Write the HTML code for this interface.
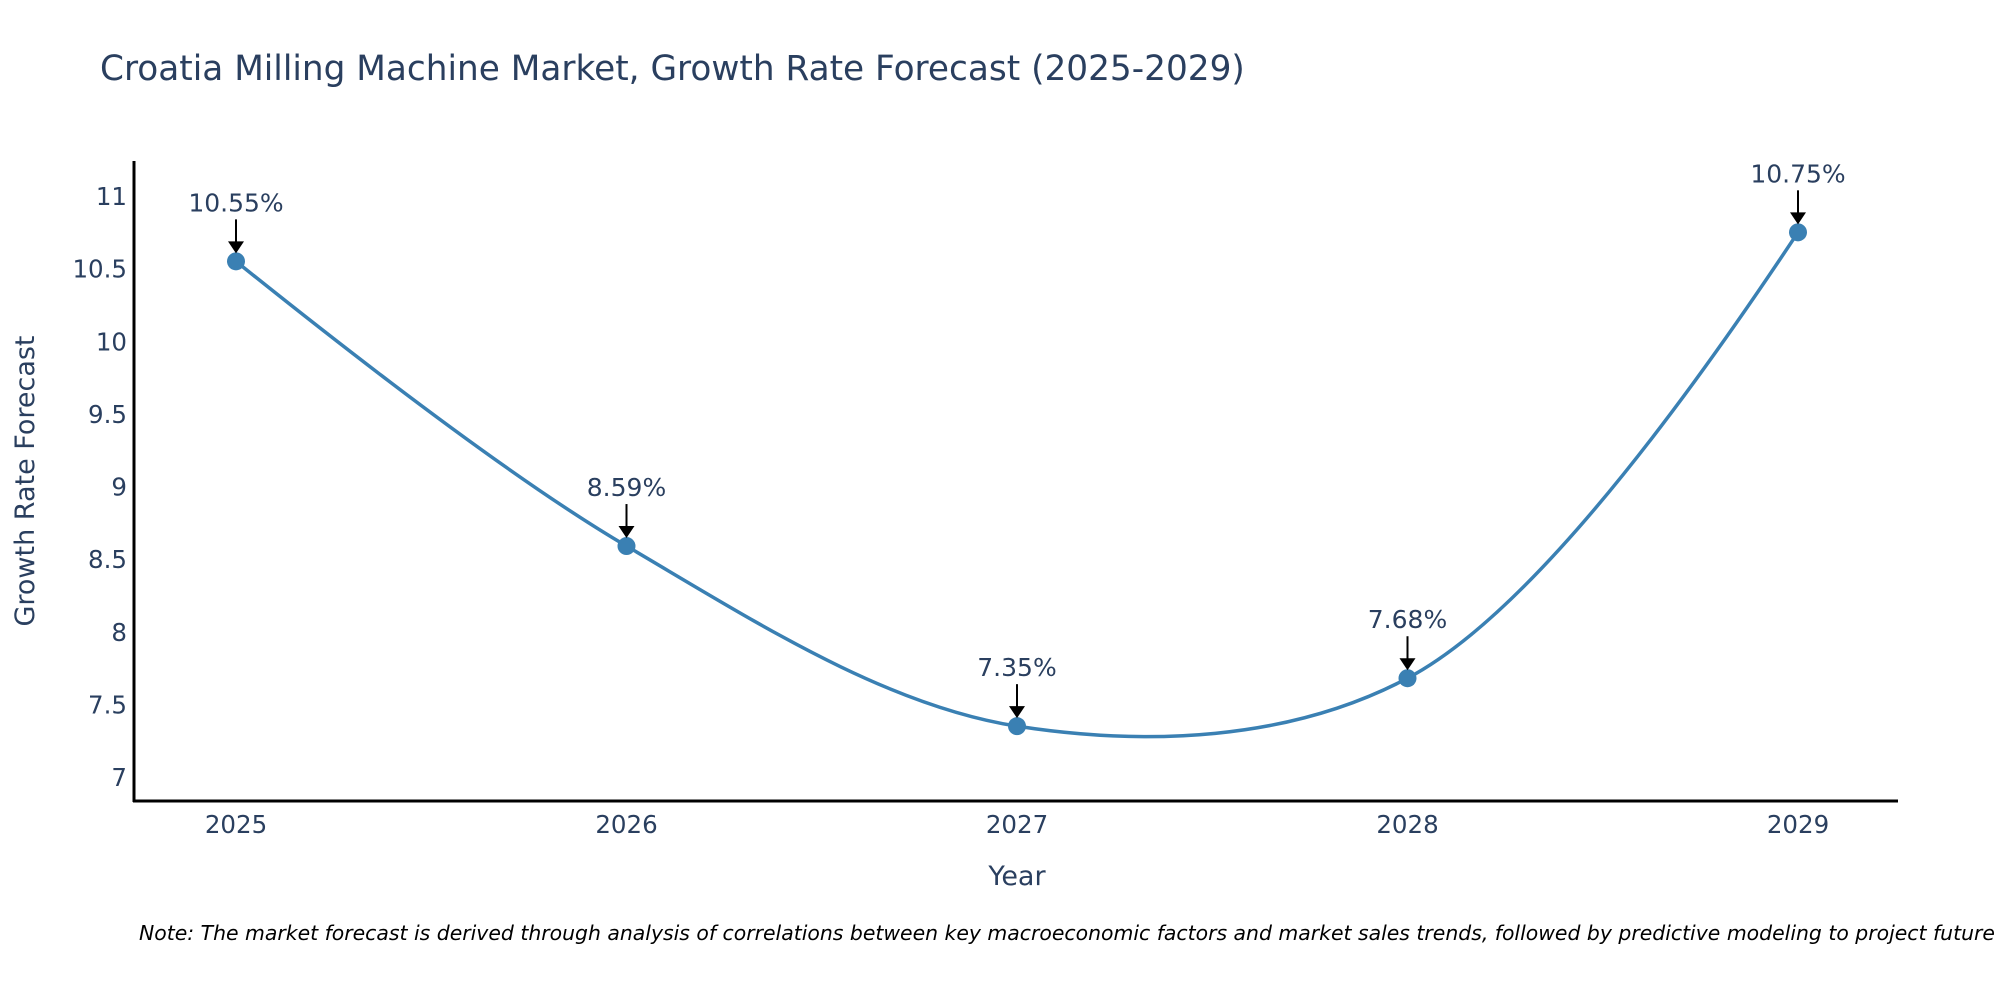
<!DOCTYPE html>
<html><head><meta charset="utf-8">
<style>
html,body{margin:0;padding:0;background:#fff;}
svg{display:block;font-family:"DejaVu Sans","Liberation Sans",sans-serif;}
</style></head>
<body>
<svg id="chart" width="2000" height="1000" viewBox="0 0 2000 1000">
<text x="100" y="80" font-size="34.3" fill="#2a3f5f">Croatia Milling Machine Market, Growth Rate Forecast (2025-2029)</text>
<g id="yticks"></g>
<g id="xticks"></g>
<g id="series"></g>
<g id="annots"></g>
<line x1="134" y1="161" x2="134" y2="802" stroke="#000" stroke-width="3"/>
<line x1="133" y1="801" x2="1898" y2="801" stroke="#000" stroke-width="3"/>
<text transform="translate(34,481) rotate(-90)" text-anchor="middle" font-size="27" fill="#2a3f5f">Growth Rate Forecast</text>
<text x="1017" y="885" text-anchor="middle" font-size="27" fill="#2a3f5f">Year</text>
<text x="139" y="940" font-size="20.4" font-style="italic" fill="#000">Note: The market forecast is derived through analysis of correlations between key macroeconomic factors and market sales trends, followed by predictive modeling to project future sales.</text>
</svg>
<script>
const years = [2025, 2026, 2027, 2028, 2029];
const growthValues = [10.55, 8.59, 7.35, 7.68, 10.75];
const yTickValues = [7, 7.5, 8, 8.5, 9, 9.5, 10, 10.5, 11];
const yTickLabels = ["7", "7.5", "8", "8.5", "9", "9.5", "10", "10.5", "11"];

const NS = "http://www.w3.org/2000/svg";
function xScale(yr){ return 236 + (yr - 2025) * (1798 - 236) / 4; }
function yScale(v){ return 777 - (v - 7) * (777 - 196) / 4; }
function mk(tag, attrs, parent){ const e=document.createElementNS(NS,tag); for(const k in attrs) e.setAttribute(k,attrs[k]); parent.appendChild(e); return e; }

const yt = document.getElementById('yticks');
yTickValues.forEach((v,i)=>{
  const t = mk('text',{x:127,y:yScale(v)+9,'text-anchor':'end','font-size':24.5,fill:'#2a3f5f'},yt);
  
  
  t.textContent = yTickLabels[i];
});
const xt = document.getElementById('xticks');
years.forEach(yr=>{
  const t = mk('text',{x:xScale(yr),y:833,'text-anchor':'middle','font-size':24.5,fill:'#2a3f5f'},xt);
  
  
  t.textContent = String(yr);
});

// plotly-style spline
const pts = years.map((yr,i)=>[xScale(yr), yScale(growthValues[i])]);
function tangent(p0,p1,p2){
  const dx1=p1[0]-p0[0], dy1=p1[1]-p0[1], dx2=p2[0]-p1[0], dy2=p2[1]-p1[1];
  const d1=Math.pow(dx1*dx1+dy1*dy1,0.25), d2=Math.pow(dx2*dx2+dy2*dy2,0.25);
  const nx=(d2*d2*dx1+d1*d1*dx2), ny=(d2*d2*dy1+d1*d1*dy2);
  const den1=3*d2*(d1+d2), den2=3*d1*(d1+d2);
  return [[p1[0]-nx/den1, p1[1]-ny/den1],[p1[0]+nx/den2, p1[1]+ny/den2]];
}
const tg=[];
for(let i=1;i<pts.length-1;i++) tg.push(tangent(pts[i-1],pts[i],pts[i+1]));
let d='M'+pts[0]+'Q'+tg[0][0]+' '+pts[1];
for(let i=2;i<pts.length-1;i++) d+='C'+tg[i-2][1]+' '+tg[i-1][0]+' '+pts[i];
d+='Q'+tg[pts.length-3][1]+' '+pts[pts.length-1];
const sg=document.getElementById('series');
const line=mk('path',{d:d,fill:'none',stroke:'#3a80b3','stroke-width':3.5},sg);


pts.forEach(p=>{
  const c=mk('circle',{cx:p[0],cy:p[1],r:9,fill:'#3a80b3'},sg);
  
  
});
const an=document.getElementById('annots');
pts.forEach((p,i)=>{
  const a=mk('line',{x1:p[0],y1:p[1]-42,x2:p[0],y2:p[1]-18,stroke:'#000','stroke-width':2},an);
  
  
  const h=mk('polygon',{points:`${p[0]-8},${p[1]-20} ${p[0]+8},${p[1]-20} ${p[0]},${p[1]-8}`,fill:'#000'},an);
  
  
  const t=mk('text',{x:p[0],y:p[1]-50,'text-anchor':'middle','font-size':25,fill:'#2a3f5f'},an);
  
  
  t.textContent=growthValues[i].toFixed(2)+'%';
});
</script>
</body></html>
